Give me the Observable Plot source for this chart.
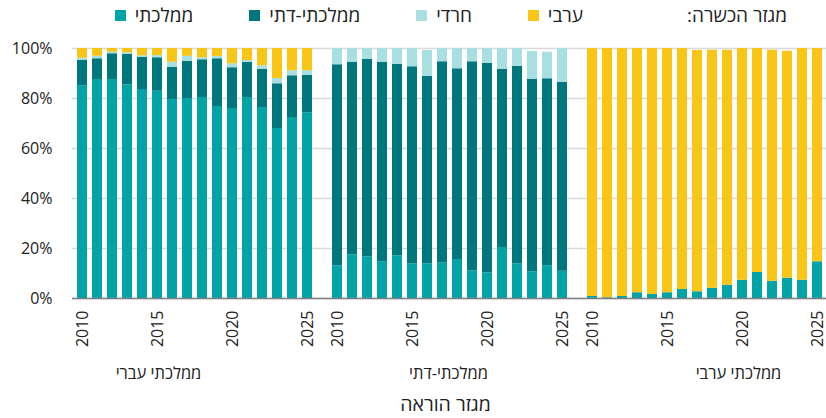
<!DOCTYPE html>
<html lang="he">
<head>
<meta charset="utf-8">
<script src="https://cdn.jsdelivr.net/npm/d3@7"></script>
<script src="https://cdn.jsdelivr.net/npm/@observablehq/plot@0.6"></script>
<style>
  body { margin: 0; background: #fff; font-family: "Open Sans", "Liberation Sans", "DejaVu Sans", sans-serif; color: #222; }
  #legend { position: relative; width: 826px; height: 30px; display: flex; align-items: center; padding-right: 39px; box-sizing: border-box; font-size: 19px; }
  #legend .title { margin-left: 104px; }
  #legend .item { display: flex; align-items: center; gap: 9px; margin-left: 56px; }
  #legend .sw { width: 11px; height: 11px; display: inline-block; }
</style>
</head>
<body>
<div id="legend" dir="rtl"></div>
<div id="chart"></div>
<script>
// ---- data ----
const years = [2010, 2011, 2012, 2013, 2014, 2015, 2016, 2017, 2018, 2019, 2020, 2021, 2022, 2023, 2024, 2025];
const tickYears = [2010, 2015, 2020, 2025];
const yTicks = [0, 20, 40, 60, 80, 100];
const groups = ["ממלכתי עברי", "ממלכתי-דתי", "ממלכתי ערבי"];
const series = ["ממלכתי", "ממלכתי-דתי", "חרדי", "ערבי"];
const colors = ["#00A3A6", "#00777C", "#A8E0E1", "#F9C516"];
const legendTitle = "מגזר הכשרה:";
const xTitle = "מגזר הוראה";

// group 1: ממלכתי עברי
const hebState_state   = [85.1, 87.6, 87.6, 85.5, 83.6, 82.9, 79.6, 80.0, 80.4, 76.8, 76.0, 80.4, 76.4, 68.0, 72.4, 74.3];
const hebState_relig   = [10.2,  8.3, 10.3, 12.2, 12.9, 13.4, 12.8, 14.8, 15.1, 19.1, 16.3, 14.0, 15.3, 17.9, 16.7, 15.0];
const hebState_haredi  = [ 0.8,  1.0,  0.6,  0.6,  0.6,  0.9,  2.1,  2.1,  0.8,  0.9,  1.6,  0.8,  1.4,  2.1,  2.0,  1.8];
const hebState_arab    = [ 3.9,  3.1,  1.5,  1.7,  2.9,  2.8,  5.5,  3.1,  3.7,  3.2,  6.1,  4.8,  6.9, 12.0,  8.9,  8.9];
// group 2: ממלכתי-דתי
const relig_state   = [13.1, 17.5, 16.7, 14.7, 17.1, 13.9, 13.9, 14.3, 15.6, 11.1, 10.3, 20.4, 13.9, 10.7, 13.1, 10.9];
const relig_relig   = [80.4, 77.0, 78.9, 79.8, 76.5, 78.8, 75.0, 80.4, 76.3, 83.6, 83.8, 71.2, 78.9, 76.9, 74.8, 75.6];
const relig_haredi  = [ 6.5,  5.5,  4.4,  5.5,  6.4,  7.3, 10.3,  5.3,  8.1,  5.3,  5.9,  8.4,  7.2, 11.2, 10.6, 13.5];
const relig_arab    = [ 0, 0, 0, 0, 0, 0, 0, 0, 0, 0, 0, 0, 0, 0, 0, 0];
// group 3: ממלכתי ערבי
const arab_state   = [ 0.8,  0.3,  0.8,  2.3,  1.6,  2.3,  3.6,  2.7,  4.1,  5.3,  7.3, 10.4,  6.9,  8.1,  7.3, 14.7];
const arab_relig   = [ 0, 0, 0, 0, 0, 0, 0, 0, 0, 0, 0, 0, 0, 0, 0, 0];
const arab_haredi  = [ 0, 0, 0, 0, 0, 0, 0, 0, 0, 0, 0, 0, 0, 0, 0, 0];
const arab_arab    = [99.2, 99.7, 99.2, 97.7, 98.4, 97.7, 96.4, 96.5, 95.2, 94.0, 92.7, 89.6, 92.4, 90.8, 92.7, 85.3];

const table = [
  [hebState_state, hebState_relig, hebState_haredi, hebState_arab],
  [relig_state, relig_relig, relig_haredi, relig_arab],
  [arab_state, arab_relig, arab_haredi, arab_arab]
];

// ---- build ----
const key = (gi, y) => gi + "|" + y;
const xDomain = [];
groups.forEach((g, gi) => {
  if (gi > 0) xDomain.push("gap" + gi);
  years.forEach(y => xDomain.push(key(gi, y)));
});
const rows = [];
groups.forEach((g, gi) => years.forEach((y, yi) => series.forEach((s, si) => {
  rows.push({key: key(gi, y), series: s, value: table[gi][si][yi]});
})));
const tickKeys = [];
groups.forEach((g, gi) => tickYears.forEach(y => tickKeys.push(key(gi, y))));

const font = '"Open Sans", "Liberation Sans", "DejaVu Sans", sans-serif';

const chart = Plot.plot({
  width: 826,
  height: 388,
  marginTop: 18,
  marginBottom: 120,
  marginLeft: 72,
  marginRight: 0,
  style: {fontFamily: font, fontSize: "16px", color: "#222", background: "#fff"},
  x: {type: "band", domain: xDomain, paddingInner: 0.34, paddingOuter: 0.066, axis: null},
  y: {domain: [0, 100], axis: null},
  color: {domain: series, range: colors},
  marks: [
    Plot.gridY(yTicks, {stroke: "#d9d9d9", strokeOpacity: 1, strokeWidth: 1.3}),
    Plot.barY(rows, {x: "key", y: "value", fill: "series"}),
    Plot.ruleY([0], {stroke: "#7f7f7f", strokeWidth: 1.6}),
    Plot.axisY(yTicks, {tickSize: 0, tickPadding: 20, tickFormat: d => d + "%", label: null, fontSize: 16}),
    Plot.axisX(tickKeys, {tickSize: 0, tickPadding: 12, tickRotate: -90, tickFormat: k => k.split("|")[1], label: null, fontSize: 16}),
    ...groups.map((g, i) => Plot.text([g], {frameAnchor: "bottom", text: d => d, dy: 80, dx: (i - 1) * 290 - 1, fontSize: 16.5, fill: "#222"})),
    Plot.text([xTitle], {frameAnchor: "bottom", text: d => d, dy: 112, dx: -4, fontSize: 19.5, fill: "#222"})
  ]
});
document.getElementById("chart").appendChild(chart);

// ---- legend ----
const legend = document.getElementById("legend");
const t = document.createElement("span");
t.className = "title";
t.textContent = legendTitle;
legend.appendChild(t);
[...series].reverse().forEach(s => {
  const item = document.createElement("span");
  item.className = "item";
  const txt = document.createElement("span");
  txt.textContent = s;
  const sw = document.createElement("span");
  sw.className = "sw";
  sw.style.background = colors[series.indexOf(s)];
  item.appendChild(txt);
  item.appendChild(sw);
  legend.appendChild(item);
});
</script>
</body>
</html>
